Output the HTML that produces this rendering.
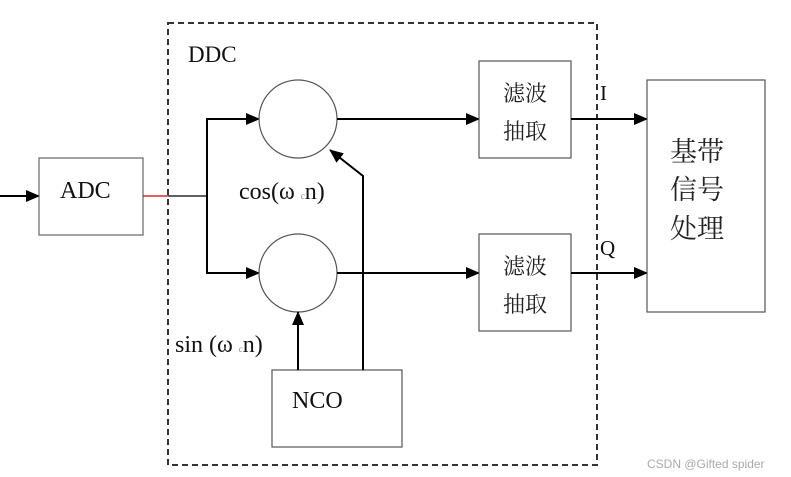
<!DOCTYPE html>
<html><head><meta charset="utf-8"><style>
html,body{margin:0;padding:0;background:#fff;}
svg{display:block}
.t{font-family:"Liberation Serif","Noto Serif CJK SC",serif;fill:#111;}
.c{font-family:"Liberation Serif","Noto Serif CJK SC","Noto Sans CJK SC",serif;fill:#222;}
</style></head><body>
<svg width="791" height="477" viewBox="0 0 791 477" xmlns="http://www.w3.org/2000/svg">
<defs><marker id="a" markerWidth="10" markerHeight="10" refX="9" refY="5" orient="auto" markerUnits="userSpaceOnUse"><path d="M0,0 L10,5 L0,10 z" fill="#000"/></marker>
<marker id="b" markerWidth="14" markerHeight="12" refX="13" refY="6" orient="auto" markerUnits="userSpaceOnUse"><path d="M0,0 L14,6 L0,12 z" fill="#000"/></marker></defs>
<rect x="168" y="23" width="429" height="442" fill="none" stroke="#333" stroke-width="2" stroke-dasharray="6,4"/>
<text class="t" x="188" y="62" font-size="23">DDC</text>
<line x1="0" y1="196" x2="39" y2="196" stroke="#000" stroke-width="2" marker-end="url(#b)"/>
<rect x="39" y="158" width="104" height="77" fill="none" stroke="#666" stroke-width="1.2"/>
<text class="t" x="60" y="198" font-size="24">ADC</text>
<line x1="143" y1="196" x2="168" y2="196" stroke="#c00" stroke-width="1.3"/>
<line x1="168" y1="196" x2="207" y2="196" stroke="#000" stroke-width="1.3"/>
<polyline points="259,119 207,119 207,273 259,273" fill="none" stroke="#000" stroke-width="2"/>
<line x1="240" y1="119" x2="259" y2="119" stroke="#000" stroke-width="2" marker-end="url(#b)"/>
<line x1="240" y1="273" x2="259" y2="273" stroke="#000" stroke-width="2" marker-end="url(#b)"/>
<circle cx="298" cy="119" r="39" fill="none" stroke="#555" stroke-width="1.2"/>
<circle cx="298" cy="273" r="39" fill="none" stroke="#555" stroke-width="1.2"/>
<line x1="337" y1="119" x2="479" y2="119" stroke="#000" stroke-width="2" marker-end="url(#b)"/>
<line x1="337" y1="273" x2="479" y2="273" stroke="#000" stroke-width="2" marker-end="url(#b)"/>
<rect x="479" y="61" width="92" height="97" fill="none" stroke="#555" stroke-width="1.2"/>
<rect x="479" y="234" width="92" height="97" fill="none" stroke="#555" stroke-width="1.2"/>
<text class="c" x="525" y="101" font-size="22" text-anchor="middle">滤波</text>
<text class="c" x="525" y="139" font-size="22" text-anchor="middle">抽取</text>
<text class="c" x="525" y="274" font-size="22" text-anchor="middle">滤波</text>
<text class="c" x="525" y="312" font-size="22" text-anchor="middle">抽取</text>
<line x1="571" y1="119" x2="647" y2="119" stroke="#000" stroke-width="2" marker-end="url(#b)"/>
<line x1="571" y1="273" x2="647" y2="273" stroke="#000" stroke-width="2" marker-end="url(#b)"/>
<text class="t" x="600" y="100" font-size="21">I</text>
<text class="t" x="600" y="255" font-size="21">Q</text>
<rect x="647" y="80" width="118" height="232" fill="none" stroke="#555" stroke-width="1.2"/>
<text class="c" x="697" y="161" font-size="27" text-anchor="middle">基带</text>
<text class="c" x="697" y="199" font-size="27" text-anchor="middle">信号</text>
<text class="c" x="697" y="238" font-size="27" text-anchor="middle">处理</text>
<rect x="272" y="370" width="130" height="77" fill="none" stroke="#555" stroke-width="1.2"/>
<text class="t" x="292" y="408" font-size="24">NCO</text>
<line x1="298" y1="370" x2="298" y2="312" stroke="#000" stroke-width="2" marker-end="url(#b)"/>
<polyline points="363,370 363,176 330,150" fill="none" stroke="#000" stroke-width="2" marker-end="url(#b)"/>
<text class="t" x="239" y="199" font-size="24">cos(ω <tspan font-size="9" fill="#888">c</tspan>n)</text>
<text class="t" x="175" y="352" font-size="24">sin (ω <tspan font-size="9" fill="#888">c</tspan>n)</text>
<text x="647" y="468" font-family="Liberation Sans,sans-serif" font-size="12" fill="#aaa">CSDN @Gifted spider</text>
</svg>
</body></html>
